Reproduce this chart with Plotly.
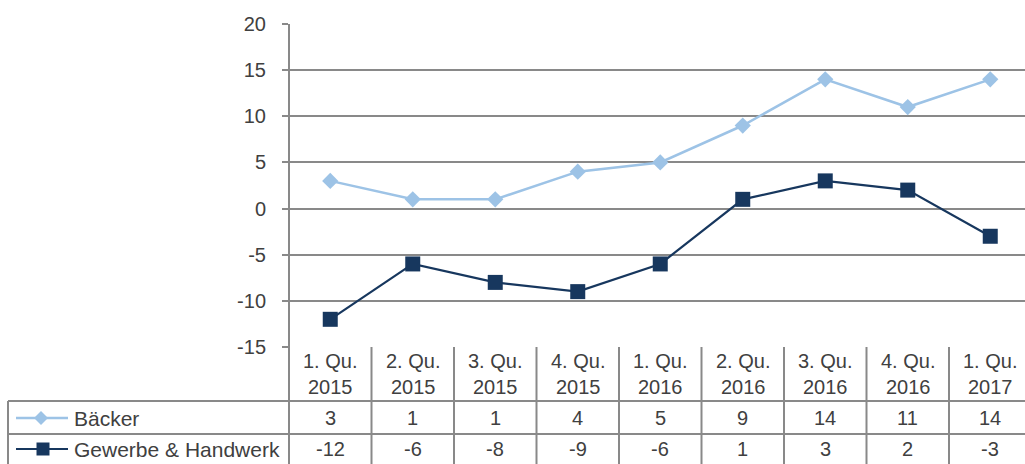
import plotly.graph_objects as go

categories = ["1. Qu.<br>2015", "2. Qu.<br>2015", "3. Qu.<br>2015", "4. Qu.<br>2015",
              "1. Qu.<br>2016", "2. Qu.<br>2016", "3. Qu.<br>2016", "4. Qu.<br>2016",
              "1. Qu.<br>2017"]
baecker = [3, 1, 1, 4, 5, 9, 14, 11, 14]
gewerbe = [-12, -6, -8, -9, -6, 1, 3, 2, -3]
series_names = ["Bäcker", "Gewerbe & Handwerk"]
y_ticks = [20, 15, 10, 5, 0, -5, -10, -15]
y_tick_text = ["20", "15", "10", "5", "0", "-5", "-10", "-15"]

W, H = 1025, 464
LIGHT = "#9DC3E6"
DARK = "#17375E"
GRID = "#898989"
TXT = "#404040"
FONT = "Liberation Sans, Arial, sans-serif"
FS = 20
FS_NAME = 21

def px(x):
    return x / W

def py(y):
    return 1 - y / H

x_idx = list(range(len(categories)))

fig = go.Figure()
fig.add_trace(go.Scatter(x=x_idx, y=baecker, mode="lines+markers", name=series_names[0],
                         line=dict(color=LIGHT, width=2.5),
                         marker=dict(symbol="diamond", size=12.5, color=LIGHT)))
fig.add_trace(go.Scatter(x=x_idx, y=gewerbe, mode="lines+markers", name=series_names[1],
                         line=dict(color=DARK, width=2.2),
                         marker=dict(symbol="square", size=15, color=DARK)))

plot_left, plot_top, plot_bottom = 289, 24, 347
cell_w = 82.5
ncat = len(categories)
x_max = -0.5 + (W - plot_left) / cell_w

fig.update_layout(
    width=W, height=H,
    margin=dict(l=0, r=0, t=0, b=0, autoexpand=False),
    paper_bgcolor="white", plot_bgcolor="white",
    showlegend=False,
    font=dict(family=FONT, size=FS, color=TXT),
    xaxis=dict(domain=[px(plot_left), 1], range=[-0.5, x_max], showticklabels=False,
               showgrid=False, zeroline=False, showline=False, fixedrange=True,
               automargin=False),
    yaxis=dict(domain=[py(plot_bottom), py(plot_top)], range=[-15, 20], tickvals=y_ticks,
               ticktext=y_tick_text,
               showgrid=True, gridcolor=GRID, gridwidth=2, zeroline=False,
               showline=False, ticks="outside", ticklen=6, tickwidth=2, tickcolor=GRID,
               ticklabelstandoff=12, tickfont=dict(size=FS, color=TXT), fixedrange=True,
               automargin=False),
)

shapes = []
lw = 2
# left axis line through table
shapes.append(dict(type="line", xref="paper", yref="paper", x0=px(plot_left), x1=px(plot_left),
                   y0=py(plot_top), y1=py(H), line=dict(color=GRID, width=lw)))
# category boundaries in table
for i in range(ncat):
    shapes.append(dict(type="line", xref="x", yref="paper", x0=i + 0.5, x1=i + 0.5,
                       y0=py(plot_bottom), y1=py(H), line=dict(color=GRID, width=lw)))
# table horizontal lines
row_tops = [401, 434]
for yy in row_tops:
    shapes.append(dict(type="line", xref="paper", yref="paper", x0=px(8), x1=1,
                       y0=py(yy), y1=py(yy), line=dict(color=GRID, width=lw)))
# table left border
shapes.append(dict(type="line", xref="paper", yref="paper", x0=px(8), x1=px(8),
                   y0=py(401), y1=py(H), line=dict(color=GRID, width=lw)))

# legend keys
row_centers = [418, 449]
key_x0, key_x1 = 16, 68
for k, (col, yc) in enumerate(zip([LIGHT, DARK], row_centers)):
    shapes.append(dict(type="line", xref="paper", yref="paper", x0=px(key_x0), x1=px(key_x1),
                       y0=py(yc), y1=py(yc), line=dict(color=col, width=2.5 if k == 0 else 2.2)))
cx, cy, r = 41, row_centers[0], 7
shapes.append(dict(type="path", xref="paper", yref="paper",
                   path=f"M {px(cx-r)} {py(cy)} L {px(cx)} {py(cy-r)} L {px(cx+r)} {py(cy)} L {px(cx)} {py(cy+r)} Z",
                   fillcolor=LIGHT, line=dict(color=LIGHT, width=0)))
cx, cy, s = 43, row_centers[1], 6.5
shapes.append(dict(type="rect", xref="paper", yref="paper", x0=px(cx - s), x1=px(cx + s),
                   y0=py(cy - s), y1=py(cy + s), fillcolor=DARK, line=dict(color=DARK, width=0)))

annotations = []
for i, c in enumerate(categories):
    annotations.append(dict(x=i, y=py(374), xref="x", yref="paper", text=c, showarrow=False,
                            xanchor="center", yanchor="middle",
                            font=dict(size=FS, color=TXT), align="center"))
    for vals, yc in zip([baecker, gewerbe], row_centers):
        annotations.append(dict(x=i, y=py(yc), xref="x", yref="paper", text=str(vals[i]),
                                xanchor="center", yanchor="middle",
                                showarrow=False, font=dict(size=FS, color=TXT)))
for name, yc in zip(series_names, row_centers):
    annotations.append(dict(x=px(72), y=py(yc), xref="paper", yref="paper", text=name,
                            showarrow=False, xanchor="left", yanchor="middle",
                            font=dict(size=FS_NAME, color=TXT)))

fig.update_layout(shapes=shapes, annotations=annotations)
fig.write_html("out.html", config={"displayModeBar": False, "staticPlot": True},
               post_script="document.body.style.margin='0';document.body.style.overflow='hidden';")
